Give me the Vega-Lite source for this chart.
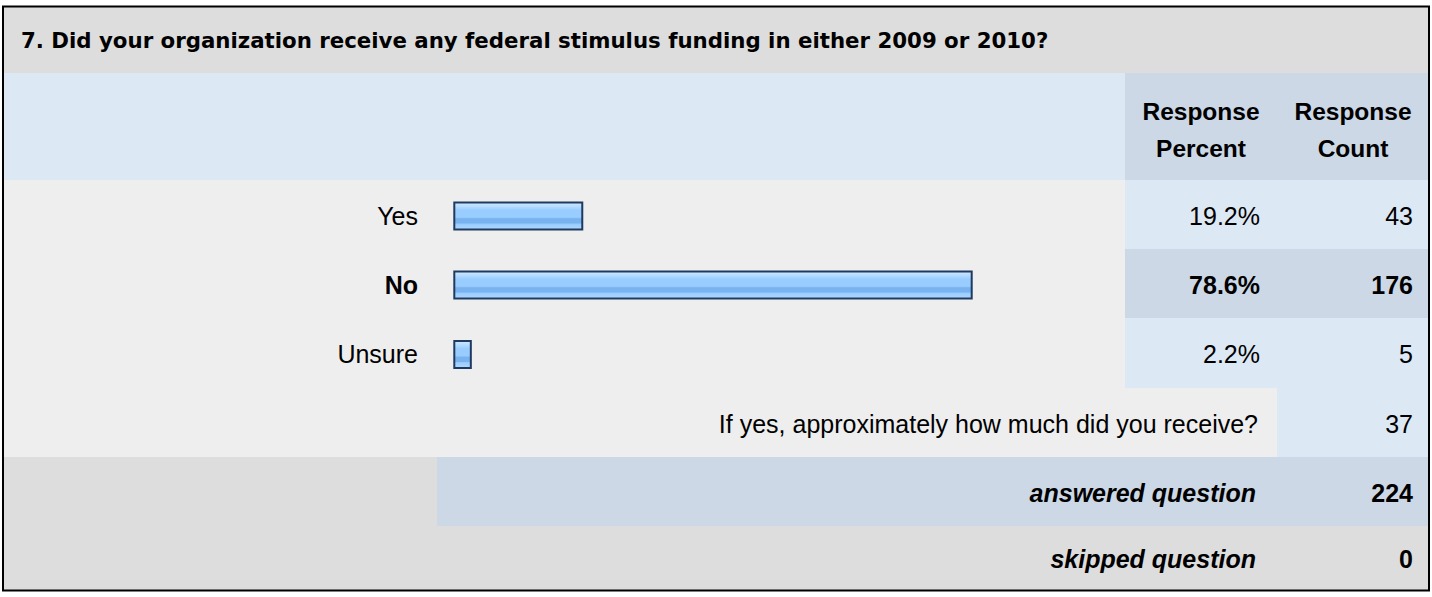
{
  "$schema": "https://vega.github.io/schema/vega-lite/v6.json",
  "width": 1426,
  "height": 593,
  "padding": {"left": 3, "right": 3, "top": 2, "bottom": 2},
  "autosize": {"type": "none"},
  "background": "#ffffff",
  "config": {
    "view": {"stroke": null},
    "axis": {"disable": true},
    "legend": {"disable": true},
    "font": "Liberation Sans",
    "text": {"font": "Liberation Sans", "color": "#000000"}
  },
  "datasets": {
    "cells": [
      {"c": 0, "c2": 4, "r": 0, "r2": 1, "tone": "title"},
      {"c": 0, "c2": 2, "r": 1, "r2": 2, "tone": "blue"},
      {"c": 2, "c2": 4, "r": 1, "r2": 2, "tone": "blue2"},
      {"c": 0, "c2": 2, "r": 2, "r2": 5, "tone": "light"},
      {"c": 2, "c2": 4, "r": 2, "r2": 3, "tone": "blue"},
      {"c": 2, "c2": 4, "r": 3, "r2": 4, "tone": "blue2"},
      {"c": 2, "c2": 4, "r": 4, "r2": 5, "tone": "blue"},
      {"c": 0, "c2": 3, "r": 5, "r2": 6, "tone": "light"},
      {"c": 3, "c2": 4, "r": 5, "r2": 6, "tone": "blue"},
      {"c": 0, "c2": 1, "r": 6, "r2": 7, "tone": "title"},
      {"c": 1, "c2": 4, "r": 6, "r2": 7, "tone": "blue2"},
      {"c": 0, "c2": 4, "r": 7, "r2": 8, "tone": "title"}
    ],
    "frame": [{"c": 0, "c2": 4, "r": 0, "r2": 8}],
    "title": [{"text": "7. Did your organization receive any federal stimulus funding in either 2009 or 2010?", "c": 0, "r": 0.5}],
    "header": [
      {"text": "Response\nPercent", "c": 2.5, "r": 1.5},
      {"text": "Response\nCount", "c": 3.5, "r": 1.5}
    ],
    "answers": [
      {"label": "Yes", "percent": 0.192, "count": 43, "r": 2.5},
      {"label": "No", "percent": 0.786, "count": 176, "r": 3.5},
      {"label": "Unsure", "percent": 0.022, "count": 5, "r": 4.5}
    ],
    "other": [{"label": "If yes, approximately how much did you receive?", "count": 37, "r": 5.5}],
    "summary": [
      {"label": "answered question", "count": 224, "r": 6.5},
      {"label": "skipped question", "count": 0, "r": 7.5}
    ]
  },
  "resolve": {"scale": {"x": "independent"}},
  "layer": [
    {
      "layer": [
        {
          "data": {"name": "cells"},
          "mark": {"type": "rect", "strokeWidth": 0},
          "encoding": {
            "x": {"field": "c", "type": "quantitative", "scale": {"domain": [0, 1, 2, 3, 4], "range": [0, 434, 1122, 1274, 1426], "nice": false, "zero": false}},
            "x2": {"field": "c2"},
            "y": {"field": "r", "type": "quantitative", "scale": {"domain": [0, 1, 2, 3, 4, 5, 6, 7, 8], "range": [0, 71, 178, 247, 316, 386, 455, 524, 593], "nice": false, "zero": false}},
            "y2": {"field": "r2"},
            "color": {"field": "tone", "type": "nominal", "scale": {"domain": ["title", "blue", "blue2", "light"], "range": ["#dddddd", "#dde8f5", "#ccd8e6", "#eeeeee"]}}
          }
        },
        {
          "data": {"name": "title"},
          "mark": {"type": "text", "align": "left", "baseline": "middle", "font": "DejaVu Sans", "fontWeight": "bold", "fontSize": 21.3, "dx": 18, "dy": 2.5},
          "encoding": {
            "x": {"field": "c", "type": "quantitative"},
            "y": {"field": "r", "type": "quantitative"},
            "text": {"field": "text"}
          }
        },
        {
          "data": {"name": "header"},
          "mark": {"type": "text", "align": "center", "baseline": "middle", "fontWeight": "bold", "fontSize": 24.5, "lineBreak": "\n", "lineHeight": 37, "dy": -13.5},
          "encoding": {
            "x": {"field": "c", "type": "quantitative"},
            "y": {"field": "r", "type": "quantitative"},
            "text": {"field": "text"}
          }
        },
        {
          "data": {"name": "answers"},
          "transform": [{"filter": "datum.label !== 'No'"}],
          "mark": {"type": "text", "align": "right", "baseline": "middle", "fontSize": 25, "dx": -19, "dy": 2},
          "encoding": {
            "x": {"datum": 1, "type": "quantitative"},
            "y": {"field": "r", "type": "quantitative"},
            "text": {"field": "label"}
          }
        },
        {
          "data": {"name": "answers"},
          "transform": [{"filter": "datum.label === 'No'"}],
          "mark": {"type": "text", "align": "right", "baseline": "middle", "fontSize": 25, "fontWeight": "bold", "dx": -19, "dy": 2},
          "encoding": {
            "x": {"datum": 1, "type": "quantitative"},
            "y": {"field": "r", "type": "quantitative"},
            "text": {"field": "label"}
          }
        },
        {
          "data": {"name": "answers"},
          "transform": [{"filter": "datum.label !== 'No'"}],
          "mark": {"type": "text", "align": "right", "baseline": "middle", "fontSize": 25, "dx": -17, "dy": 2},
          "encoding": {
            "x": {"datum": 3, "type": "quantitative"},
            "y": {"field": "r", "type": "quantitative"},
            "text": {"field": "percent", "type": "quantitative", "format": ".1%"}
          }
        },
        {
          "data": {"name": "answers"},
          "transform": [{"filter": "datum.label === 'No'"}],
          "mark": {"type": "text", "align": "right", "baseline": "middle", "fontSize": 25, "fontWeight": "bold", "dx": -17, "dy": 2},
          "encoding": {
            "x": {"datum": 3, "type": "quantitative"},
            "y": {"field": "r", "type": "quantitative"},
            "text": {"field": "percent", "type": "quantitative", "format": ".1%"}
          }
        },
        {
          "data": {"name": "answers"},
          "transform": [{"filter": "datum.label !== 'No'"}],
          "mark": {"type": "text", "align": "right", "baseline": "middle", "fontSize": 25, "dx": -16, "dy": 2},
          "encoding": {
            "x": {"datum": 4, "type": "quantitative"},
            "y": {"field": "r", "type": "quantitative"},
            "text": {"field": "count", "type": "quantitative"}
          }
        },
        {
          "data": {"name": "answers"},
          "transform": [{"filter": "datum.label === 'No'"}],
          "mark": {"type": "text", "align": "right", "baseline": "middle", "fontSize": 25, "fontWeight": "bold", "dx": -16, "dy": 2},
          "encoding": {
            "x": {"datum": 4, "type": "quantitative"},
            "y": {"field": "r", "type": "quantitative"},
            "text": {"field": "count", "type": "quantitative"}
          }
        },
        {
          "data": {"name": "other"},
          "mark": {"type": "text", "align": "right", "baseline": "middle", "fontSize": 25, "dx": -19, "dy": 2},
          "encoding": {
            "x": {"datum": 3, "type": "quantitative"},
            "y": {"field": "r", "type": "quantitative"},
            "text": {"field": "label"}
          }
        },
        {
          "data": {"name": "other"},
          "mark": {"type": "text", "align": "right", "baseline": "middle", "fontSize": 25, "dx": -16, "dy": 2},
          "encoding": {
            "x": {"datum": 4, "type": "quantitative"},
            "y": {"field": "r", "type": "quantitative"},
            "text": {"field": "count", "type": "quantitative"}
          }
        },
        {
          "data": {"name": "summary"},
          "mark": {"type": "text", "align": "right", "baseline": "middle", "fontSize": 25, "fontWeight": "bold", "fontStyle": "italic", "dx": -21, "dy": 2},
          "encoding": {
            "x": {"datum": 3, "type": "quantitative"},
            "y": {"field": "r", "type": "quantitative"},
            "text": {"field": "label"}
          }
        },
        {
          "data": {"name": "summary"},
          "mark": {"type": "text", "align": "right", "baseline": "middle", "fontSize": 25, "fontWeight": "bold", "dx": -16, "dy": 2},
          "encoding": {
            "x": {"datum": 4, "type": "quantitative"},
            "y": {"field": "r", "type": "quantitative"},
            "text": {"field": "count", "type": "quantitative"}
          }
        },
        {
          "data": {"name": "frame"},
          "mark": {"type": "rect", "fillOpacity": 0, "stroke": "#000000", "strokeWidth": 2},
          "encoding": {
            "x": {"field": "c", "type": "quantitative"},
            "x2": {"field": "c2"},
            "y": {"field": "r", "type": "quantitative"},
            "y2": {"field": "r2"}
          }
        }
      ]
    },
    {
      "data": {"name": "answers"},
      "mark": {
        "type": "bar",
        "orient": "horizontal",
        "height": 27,
        "yOffset": 1.5,
        "xOffset": 2.1,
        "stroke": "#1f3a60",
        "strokeWidth": 2,
        "fill": {
          "gradient": "linear",
          "x1": 0, "y1": 0, "x2": 0, "y2": 1,
          "stops": [
            {"offset": 0, "color": "#cfe8ff"},
            {"offset": 0.15, "color": "#b5dbff"},
            {"offset": 0.28, "color": "#99ccff"},
            {"offset": 0.55, "color": "#99ccff"},
            {"offset": 0.6, "color": "#79b3ef"},
            {"offset": 0.76, "color": "#79b3ef"},
            {"offset": 0.8, "color": "#99ccff"},
            {"offset": 1, "color": "#b0d8ff"}
          ]
        }
      },
      "encoding": {
        "x": {"field": "percent", "type": "quantitative", "scale": {"domain": [0, 1], "range": [451.3, 1106.9], "nice": false, "zero": false}},
        "x2": {"datum": 0},
        "y": {"field": "r", "type": "quantitative"}
      }
    }
  ]
}
